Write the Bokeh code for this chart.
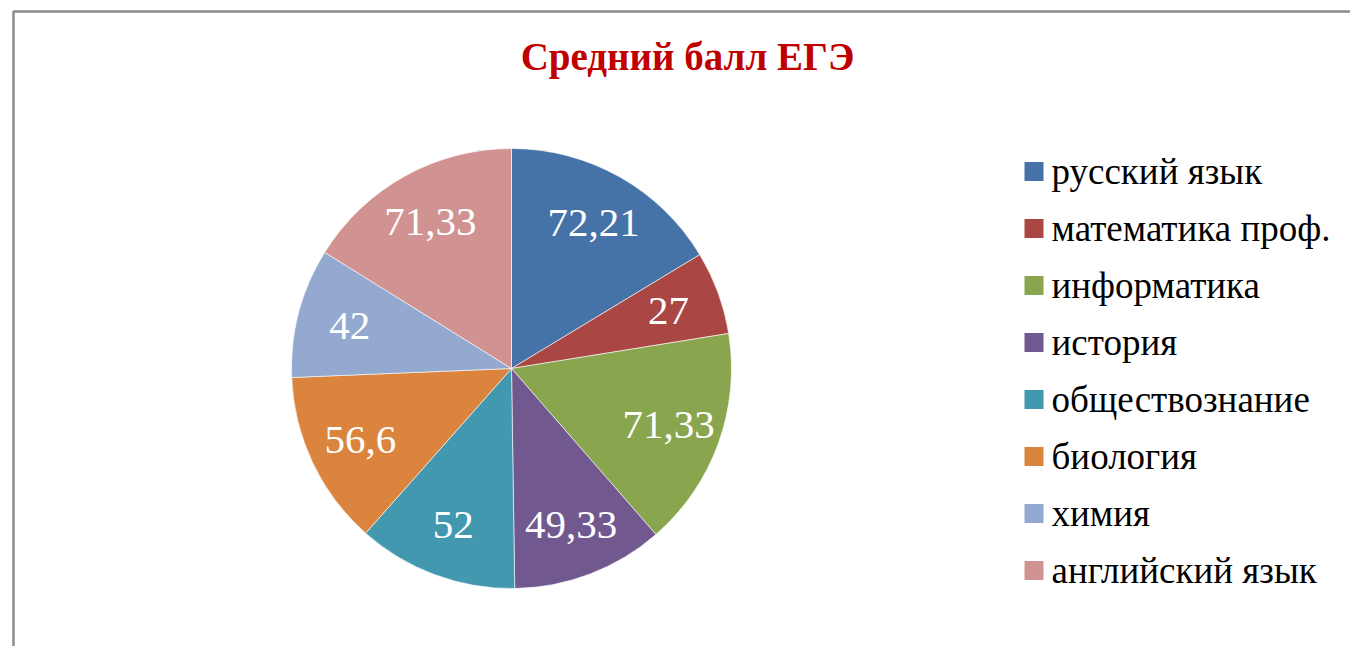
import numpy as np
from bokeh.plotting import figure
from bokeh.models import Range1d, ColumnDataSource
from bokeh.core.properties import value
from bokeh.embed import file_html
from bokeh.resources import INLINE

# ---- data ----
subjects = ["русский язык", "математика проф.", "информатика", "история",
            "обществознание", "биология", "химия", "английский язык"]
scores = [72.21, 27, 71.33, 49.33, 52, 56.6, 42, 71.33]
score_labels = ["72,21", "27", "71,33", "49,33", "52", "56,6", "42", "71,33"]
colors = ["#4572A7", "#AA4643", "#89A54E", "#71588F",
          "#4198AF", "#DB843D", "#93A9CF", "#D19392"]
title_text = "Средний балл ЕГЭ"

W, H = 1350, 646
FONT = "Liberation Serif"

p = figure(width=W, height=H, x_range=Range1d(0, W), y_range=Range1d(0, H),
           output_backend="svg", toolbar_location=None, min_border=0,
           x_axis_type=None, y_axis_type=None, outline_line_color=None)

# title
p.text(x=[687], y=[H - 56], text=[title_text], text_color="#C00000",
       text_font=value(FONT), text_font_size="39px", text_font_style="bold",
       text_align="center", text_baseline="middle")

# chart frame (left and top edges visible in the window)
p.line(x=[13, 13, W + 5], y=[-5, H - 11, H - 11], line_color="#8c8c8c", line_width=2.5)

# pie
cx, cy = 511, H - 368
R = 220
vals = np.array(scores, dtype=float)
frac = vals / vals.sum()
ends = np.cumsum(frac) * 2 * np.pi
starts = ends - frac * 2 * np.pi
src = ColumnDataSource(dict(start=(np.pi / 2 - starts).tolist(), end=(np.pi / 2 - ends).tolist(),
                            color=colors, subject=subjects))
p.wedge(x=cx, y=cy, radius=R, radius_units="screen",
        start_angle="start", end_angle="end", direction="clock",
        fill_color="color", line_color="white", line_width=0.6, source=src)

# data labels (one renderer per label)
mid = (starts + ends) / 2
lr = 0.76 * R
for m, t in zip(mid, score_labels):
    p.text(x=[float(cx + lr * np.sin(m))], y=[float(cy + lr * np.cos(m))], text=[t],
           text_color="white", text_font=value(FONT), text_font_size="41px",
           text_align="center", text_baseline="middle")

# legend
for i, (s, c) in enumerate(zip(subjects, colors)):
    yy = H - (171 + 57 * i)
    p.rect(x=[1033.5], y=[yy], width=19, height=19, width_units="screen",
           height_units="screen", fill_color=c, line_color=None)
    p.text(x=[1051], y=[yy], text=[s], text_color="black",
           text_font=value(FONT), text_font_size="37px",
           text_align="left", text_baseline="middle")

open("out.html", "w").write(file_html(p, INLINE))
